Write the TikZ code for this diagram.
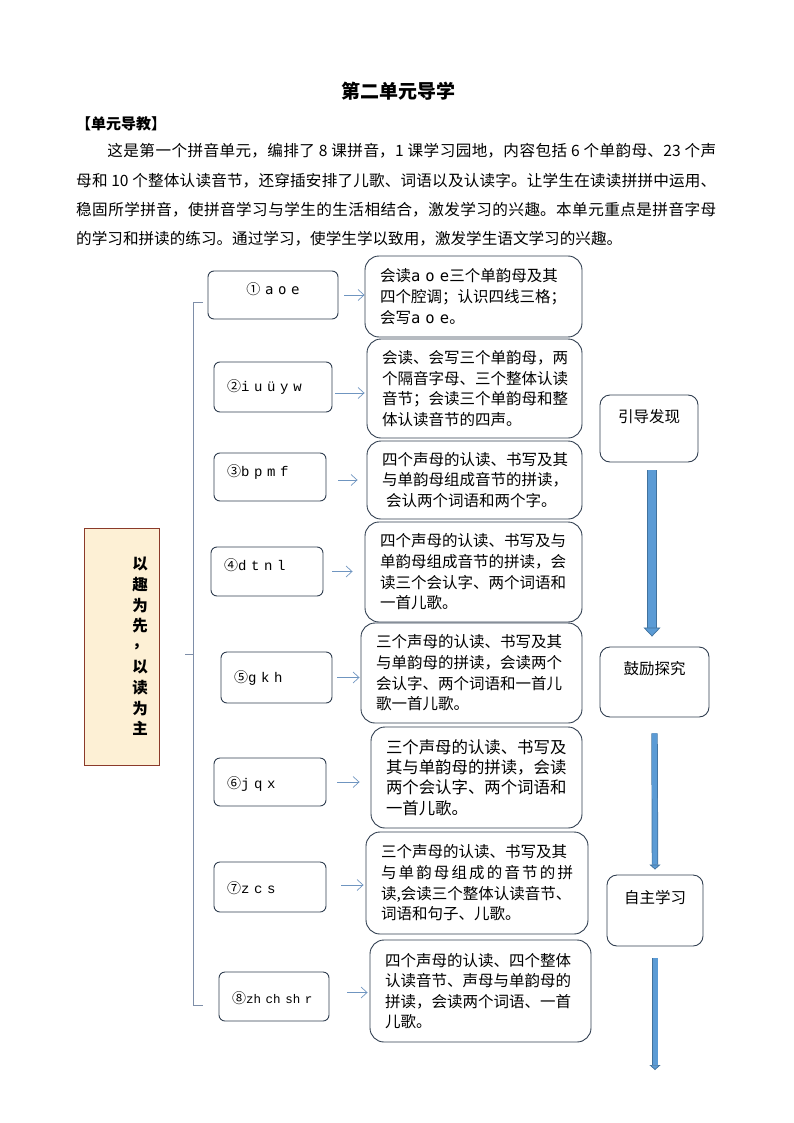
\documentclass[tikz,border=0pt]{standalone}
\usepackage{fontspec}
\setmainfont{Noto Sans CJK SC}
\newfontfamily\monof{Liberation Mono}
\newfontfamily\smonof{DejaVu Sans Mono}
\usetikzlibrary{arrows.meta,calc}
\definecolor{boxline}{HTML}{2F3D4F}
\definecolor{brk}{HTML}{7E8EA8}
\definecolor{sarr}{HTML}{6F95C0}
\definecolor{bfill}{HTML}{5B9BD5}
\definecolor{bedge}{HTML}{41719C}
\definecolor{cream}{HTML}{FDF0D5}
\definecolor{redline}{HTML}{8B3A2A}
\newcommand\lift[2]{\raisebox{#1}[\height][\depth]{#2}}
\newcommand\lbl[2]{\fontsize{14}{16}\selectfont #1{\monof\fontsize{14}{16}\selectfont #2}}
\begin{document}
\begin{tikzpicture}[x=1pt,y=-1pt,
  smallbox/.style={draw=boxline, line width=0.9pt, rounded corners=6pt, inner xsep=13pt, inner ysep=0pt, align=left, text height=10pt, text depth=3pt, font=\fontsize{14}{16}\selectfont},
  bigbox/.style={draw=boxline, line width=0.9pt, rounded corners=14pt, inner xsep=15pt, inner ysep=0pt, align=left, font=\XeTeXlinebreaklocale ""\relax\fontsize{15.5}{20.6}\selectfont},
  flowbox/.style={draw=boxline, line width=0.9pt, rounded corners=10pt, inner sep=0pt, font=\fontsize{15.5}{18}\selectfont},
  sarrow/.style={draw=sarr, line width=0.7pt, -{Straight Barb[length=6pt,width=11pt]}},
  brkline/.style={draw=brk, line width=0.9pt},
  barrow/.style n args={3}{draw=bfill, line width=#1,
     preaction={draw=bedge, line width=#1+1.4pt, -, shorten >=#3},
     -{Triangle[width=#2,length=#3,fill=bfill,color=bedge,line width=0.7pt]}}
]
\useasboundingbox (0,0) rectangle (794,1123);

% heading texts
\node[font=\bfseries\fontsize{19}{22}\selectfont, anchor=base, inner sep=0pt] (title) at (398,99) {第二单元导学};
\node[font=\bfseries\fontsize{15}{18}\selectfont, anchor=base west, inner sep=0pt] (head) at (76,129.5) {【单元导教】};
\node[anchor=base west, inner sep=0pt, text width=640pt, align=justify, font=\fontsize{15.6}{29.3}\selectfont] (para) at (76,157)
{\XeTeXlinebreaklocale "zh"\XeTeXlinebreakskip=0pt plus 2pt\relax
\hspace*{2em}这是第一个拼音单元，编排了 8 课拼音，1 课学习园地，内容包括 6 个单韵母、23 个声\linebreak
母和 10 个整体认读音节，还穿插安排了儿歌、词语以及认读字。让学生在读读拼拼中运用、\linebreak
稳固所学拼音，使拼音学习与学生的生活相结合，激发学习的兴趣。本单元重点是拼音字母\linebreak
的学习和拼读的练习。通过学习，使学生学以致用，激发学生语文学习的兴趣。\XeTeXlinebreaklocale ""\relax};

% left box
\node[draw=redline, fill=cream, line width=0.9pt, minimum width=75pt, minimum height=237pt, inner sep=0pt] (lb) at (121.5,646.5) {};
\node[font=\bfseries\fontsize{15.5}{20.6}\selectfont, align=center, inner sep=0pt] (lt) at ([xshift=18.5pt]lb.center)
  {以\\趣\\为\\先\\\lift{5pt}{，}\\以\\读\\为\\主};

% bracket
\coordinate (btop) at (203,302);
\coordinate (btc) at (193,302);
\coordinate (bbc) at (193,1005);
\coordinate (bbot) at (203,1005);
\coordinate (bmc) at (193,654);
\coordinate (bmid) at (185,654);
\draw[brkline] (btop) -- (btc) -- (bbc) -- (bbot);
\draw[brkline] (bmc) -- (bmid);

% small boxes
\node[smallbox, minimum width=130pt, minimum height=48pt, text width=104pt, align=center] (s1) at (273,295) {\lift{4pt}{\fontsize{14}{16}\selectfont ①{\smonof\fontsize{14}{16}\selectfont\ a o e}}};
\node[smallbox, minimum width=118pt, minimum height=50pt, text width=92pt] (s2) at (273,387) {\lift{-1pt}{\lbl{②}{i u ü y w}}};
\node[smallbox, minimum width=112pt, minimum height=48pt, text width=86pt] (s3) at (270,477) {\lift{4pt}{\lbl{③}{b p m f}}};
\node[smallbox, minimum width=112pt, minimum height=49pt, text width=86pt] (s4) at (267,571.5) {\lift{5pt}{\lbl{④}{d t n l}}};
\node[smallbox, minimum width=111pt, minimum height=51pt, text width=85pt] (s5) at (276.5,677.5) {\lift{-1pt}{\lbl{⑤}{g k h}}};
\node[smallbox, minimum width=112pt, minimum height=48pt, text width=86pt] (s6) at (270,782) {\lift{-3pt}{\lbl{⑥}{j q x}}};
\node[smallbox, minimum width=112pt, minimum height=50pt, text width=86pt] (s7) at (270,887) {\lift{-3pt}{\lbl{⑦}{z c s}}};
\node[smallbox, minimum width=110pt, minimum height=49pt, text width=84pt] (s8) at (274,996.5) {\lift{-3pt}{\fontsize{14}{16}\selectfont ⑧{\monof\fontsize{12.5}{14}\selectfont zh ch sh r}}};

% big boxes
\node[bigbox, minimum width=217pt, minimum height=81pt, text width=187pt] (b1) at (473.5,296.5)
  {会读{\smonof a o e}三个单韵母及其\\四个腔调；认识四线三格；\\会写{\smonof a o e}。};
\node[bigbox, minimum width=215pt, minimum height=99pt, text width=185pt] (b2) at (474.5,388.5)
  {会读、会写三个单韵母，两\\个隔音字母、三个整体认读\\音节；会读三个单韵母和整\\体认读音节的四声。};
\node[bigbox, minimum width=215pt, minimum height=78pt, text width=185pt] (b3) at (474.5,480)
  {四个声母的认读、书写及其\\与单韵母组成音节的拼读，\\\hspace*{4pt}会认两个词语和两个字。};
\node[bigbox, minimum width=217pt, minimum height=100pt, text width=187pt] (b4) at (473.5,572)
  {四个声母的认读、书写及与\\单韵母组成音节的拼读，会\\读三个会认字、两个词语和\\一首儿歌。};
\node[bigbox, minimum width=221pt, minimum height=100pt, text width=191pt] (b5) at (471.5,673)
  {三个声母的认读、书写及其\\与单韵母的拼读，会读两个\\会认字、两个词语和一首儿\\歌一首儿歌。};
\node[bigbox, minimum width=211pt, minimum height=101pt, text width=181pt, font=\fontsize{16.4}{20.3}\selectfont] (b6) at (476.5,777.5)
  {三个声母的认读、书写及\\其与单韵母的拼读，会读\\两个会认字、两个词语和\\一首儿歌。};
\node[bigbox, minimum width=222pt, minimum height=102pt, text width=192pt] (b7) at (477,883)
  {三个声母的认读、书写及其\\\makebox[192pt][s]{与\hfil 单\hfil 韵\hfil 母\hfil 组\hfil 成\hfil 的\hfil 音\hfil 节\hfil 的\hfil 拼}\\读,会读三个整体认读音节、\\词语和句子、儿歌。};
\node[bigbox, minimum width=221pt, minimum height=102pt, text width=191pt] (b8) at (480.5,991)
  {四个声母的认读、四个整体\\认读音节、声母与单韵母的\\拼读，会读两个词语、一首\\儿歌。};

% small arrows
\draw[sarrow, shorten <=6pt] (s1.east) -- (s1.east -| b1.west);
\draw[sarrow, shorten <=3pt, shorten >=2pt] ([yshift=-6pt]s2.east) -- ([yshift=-6pt]s2.east -| b2.west);
\draw[sarrow, shorten <=12pt, shorten >=9pt] ([yshift=-3pt]s3.east) -- ([yshift=-3pt]s3.east -| b3.west);
\draw[sarrow, shorten <=9pt, shorten >=12pt] (s4.east) -- (s4.east -| b4.west);
\draw[sarrow, shorten <=5pt, shorten >=1pt] (s5.east) -- (s5.east -| b5.west);
\draw[sarrow, shorten <=11pt, shorten >=11pt] (s6.east) -- (s6.east -| b6.west);
\draw[sarrow, shorten <=15pt, shorten >=2pt] ([yshift=2pt]s7.east) -- ([yshift=2pt]s7.east -| b7.west);
\draw[sarrow, shorten <=18pt, shorten >=2pt] ([yshift=4pt]s8.east) -- ([yshift=4pt]s8.east -| b8.west);

% flow boxes
\node[flowbox, minimum width=98pt, minimum height=67pt] (f1) at (649,428.5) {\lift{12pt}{引导发现}};
\node[flowbox, minimum width=109pt, minimum height=70pt] (f2) at (654.5,682) {\lift{13pt}{鼓励探究}};
\node[flowbox, minimum width=96pt, minimum height=71pt] (f3) at (655,910.5) {\lift{12.5pt}{自主学习}};
\coordinate (a3end) at (655,1070);

% block arrows
\draw[barrow={8pt}{17pt}{9pt}] ([xshift=3pt,yshift=-8pt]f1.south) -- ([xshift=-2.5pt,yshift=10pt]f2.north);
\draw[barrow={5pt}{11pt}{5pt}] ([yshift=-16pt]f2.south) -- ([yshift=5pt]f3.north);
\draw[barrow={5pt}{11pt}{5pt}] ([yshift=-12pt]f3.south) -- (a3end);
\end{tikzpicture}
\end{document}
